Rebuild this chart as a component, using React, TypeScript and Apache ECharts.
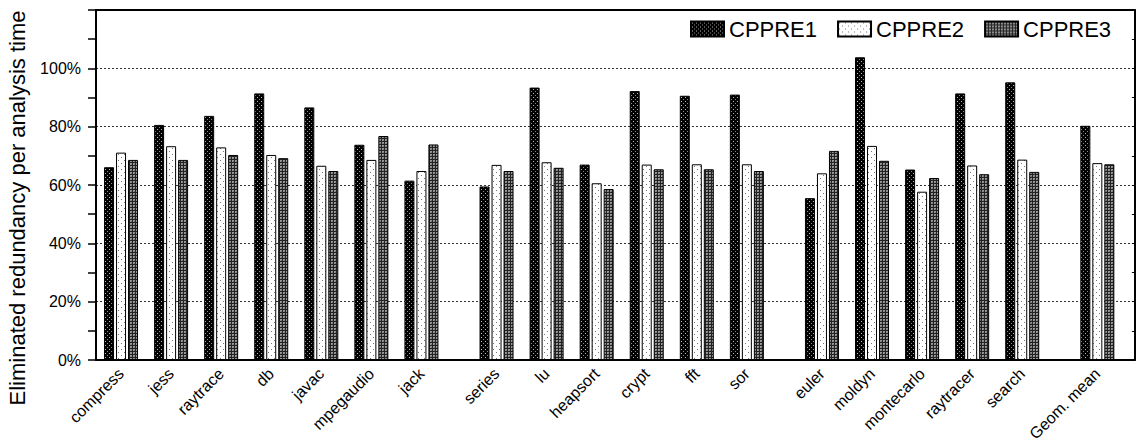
import React, { useEffect, useRef } from "react";
import * as echarts from "echarts";

// Benchmark groups (a wider gap separates the groups)
const groupA = ["compress", "jess", "raytrace", "db", "javac", "mpegaudio", "jack"];
const groupB = ["series", "lu", "heapsort", "crypt", "fft", "sor"];
const groupC = ["euler", "moldyn", "montecarlo", "raytracer", "search"];
const groupD = ["Geom. mean"];
const groups = [groupA, groupB, groupC, groupD];
const groupGap = 1.5; // distance (in benchmark slots) between groups

const seriesNames = ["CPPRE1", "CPPRE2", "CPPRE3"];
const cppre1 = [66.1, 80.6, 83.7, 91.4, 86.6, 73.8, 61.5, 59.5, 93.4, 67.0, 92.2, 90.6, 91.0, 55.5, 103.8, 65.3, 91.4, 95.2, 80.3];
const cppre2 = [71.1, 73.3, 72.9, 70.3, 66.6, 68.6, 64.8, 66.9, 67.8, 60.6, 67.0, 67.1, 67.1, 64.0, 73.4, 57.7, 66.7, 68.7, 67.5];
const cppre3 = [68.6, 68.6, 70.3, 69.2, 64.8, 76.8, 73.9, 64.8, 65.9, 58.6, 65.4, 65.4, 64.8, 71.7, 68.3, 62.4, 63.7, 64.5, 67.1];
const yTickLabels = ["0%", "20%", "40%", "60%", "80%", "100%"];
const yAxisTitle = "Eliminated redundancy per analysis time";

const FONT = "'Liberation Sans', Arial, Helvetica, sans-serif";
const SUB = 4; // fine slots per benchmark slot
const LEAD = 0.5; // empty space before first benchmark (benchmark slots)
const TRAIL = 0.75; // empty space after last benchmark

// Build a fine-grained category axis: benchmark names at their slots, blanks elsewhere
function buildAxis() {
  const pos: number[] = [];
  let p = LEAD;
  groups.forEach((g, gi) => {
    if (gi > 0) p += groupGap - 1;
    g.forEach(() => {
      pos.push(p);
      p += 1;
    });
  });
  const last = pos[pos.length - 1] + TRAIL;
  const count = Math.round(last * SUB) + 1;
  const cats: string[] = new Array(count).fill("");
  const names = groups.flat();
  const idx = pos.map((q) => Math.round(q * SUB));
  idx.forEach((k, i) => {
    cats[k] = names[i];
  });
  return { cats, idx };
}

function makeTile(size: number, bg: string, dots: Array<[number, number, string]>) {
  const c = document.createElement("canvas");
  c.width = size;
  c.height = size;
  const ctx = c.getContext("2d")!;
  ctx.fillStyle = bg;
  ctx.fillRect(0, 0, size, size);
  dots.forEach(([x, y, col]) => {
    ctx.fillStyle = col;
    ctx.fillRect(x, y, 1, 1);
  });
  return c;
}

export default function App() {
  const ref = useRef<HTMLDivElement>(null);
  useEffect(() => {
    if (!ref.current) return;
    const chart = echarts.init(ref.current, undefined, { renderer: "svg" });
    const { cats, idx } = buildAxis();
    const values = [cppre1, cppre2, cppre3];
    const seriesData = values.map((vals) => {
      const arr: (number | null)[] = new Array(cats.length).fill(null);
      idx.forEach((k, i) => {
        arr[k] = vals[i];
      });
      return arr;
    });

    const patterns = [
      makeTile(4, "#000", [[1, 1, "#bbb"], [3, 3, "#888"]]),
      makeTile(6, "#fff", [[1, 1, "#777"], [4, 4, "#777"]]),
      makeTile(3, "#222", [[1, 1, "#999"], [2, 1, "#999"], [1, 2, "#999"], [2, 2, "#777"]]),
    ];

    chart.setOption({
      animation: false,
      backgroundColor: "#fff",
      textStyle: { fontFamily: FONT },
      grid: { left: 96, right: 2, top: 10, bottom: 88, containLabel: false },
      legend: {
        data: seriesNames,
        left: 685,
        top: 13,
        itemWidth: 33,
        itemHeight: 15,
        itemGap: 20,
        icon: "rect",
        textStyle: { fontSize: 22, color: "#000", fontFamily: FONT },
      },
      graphic: [
        {
          type: "text",
          x: 17,
          y: 208,
          rotation: Math.PI / 2,
          style: {
            text: yAxisTitle,
            fontSize: 22,
            fontFamily: FONT,
            fill: "#000",
            align: "center",
            verticalAlign: "middle",
          },
        },
      ],
      xAxis: [
        {
          type: "category",
          position: "bottom",
          data: cats,
          boundaryGap: false,
          axisLine: { show: true, onZero: false, lineStyle: { color: "#000", width: 2 } },
          axisTick: { show: false },
          splitLine: { show: false },
          axisLabel: {
            interval: 0,
            rotate: 45,
            margin: 11,
            fontSize: 16,
            color: "#000",
            fontFamily: FONT,
          },
        },
        {
          type: "category",
          position: "top",
          data: cats,
          boundaryGap: false,
          axisLine: { show: true, onZero: false, lineStyle: { color: "#000", width: 2 } },
          axisTick: { show: false },
          axisLabel: { show: false },
          splitLine: { show: false },
        },
      ],
      yAxis: [
        {
          type: "value",
          position: "left",
          min: 0,
          max: 120,
          interval: 20,
          axisLine: { show: true, lineStyle: { color: "#000", width: 2 } },
          axisTick: { show: true, length: 8, inside: false, lineStyle: { color: "#000", width: 1.5 } },
          minorTick: { show: true, splitNumber: 2, length: 8, lineStyle: { color: "#000", width: 1.5 } },
          axisLabel: {
            fontSize: 16,
            color: "#000",
            margin: 15,
            fontFamily: FONT,
            formatter: (v: number) => yTickLabels[v / 20] || "",
          },
          splitLine: { show: true, lineStyle: { color: "#333", width: 1, type: [2, 2] } },
        },
        {
          type: "value",
          position: "right",
          min: 0,
          max: 120,
          interval: 10,
          axisLine: { show: true, lineStyle: { color: "#000", width: 2 } },
          axisTick: { show: true, inside: true, length: 3, lineStyle: { color: "#000", width: 1 } },
          axisLabel: { show: false },
          splitLine: { show: false },
        },
      ],
      series: seriesNames.map((n, si) => ({
        name: n,
        type: "bar",
        xAxisIndex: 0,
        yAxisIndex: 0,
        barWidth: 10,
        barGap: "20%",
        data: seriesData[si],
        itemStyle: {
          color: { image: patterns[si], repeat: "repeat" },
          borderColor: "#000",
          borderWidth: 1,
        },
      })),
    });
    return () => chart.dispose();
  }, []);
  return (
    <div
      ref={ref}
      style={{ position: "absolute", left: 0, top: 0, width: 1137, height: 448 }}
    />
  );
}
